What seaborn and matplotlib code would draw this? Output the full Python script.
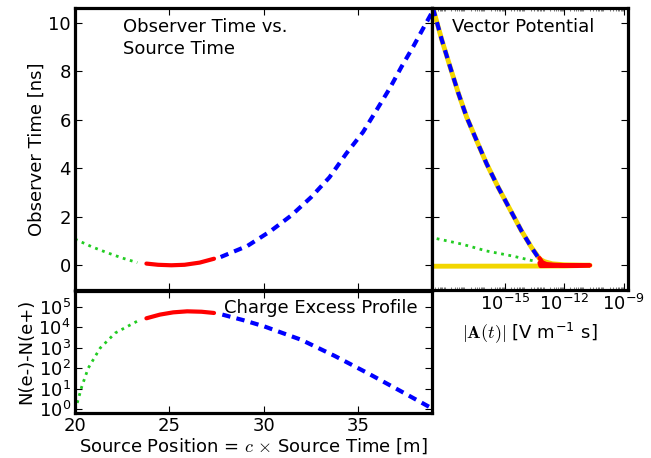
import numpy as np
import pandas as pd
import matplotlib
matplotlib.use("Agg")
import matplotlib.pyplot as plt
import matplotlib.ticker as mticker
import seaborn as sns

# ---------------- data ----------------
# Observer time vs source position
obs_green_x = [20.0, 20.9, 21.7, 22.5, 23.3]
obs_green_t = [1.08, 0.76, 0.52, 0.30, 0.11]
obs_red_x = [23.78, 24.4, 25.1, 25.8, 26.6, 27.36]
obs_red_t = [0.07, 0.02, 0.0, 0.02, 0.11, 0.27]
obs_blue_x = [27.71, 29.13, 30.37, 31.44, 32.5, 33.47, 34.36, 35.25, 35.96,
              36.66, 37.29, 37.91, 38.44, 38.88]
obs_blue_t = [0.34, 0.80, 1.42, 2.05, 2.81, 3.63, 4.61, 5.50, 6.40,
              7.30, 8.20, 9.03, 9.79, 10.41]

# Charge excess profile
ce_green_x = [20.0, 20.09, 20.36, 20.7, 21.33, 22.13, 23.28]
ce_green_n = [0.9, 1.6, 12.6, 100.0, 955.0, 5250.0, 19500.0]
ce_red_x = [23.78, 24.5, 25.2, 25.94, 26.7, 27.36]
ce_red_n = [27500.0, 41700.0, 53700.0, 60300.0, 57500.0, 50100.0]
ce_blue_x = [27.8, 28.9, 30.0, 31.97, 33.74, 35.51, 37.29, 38.9]
ce_blue_n = [41700.0, 22400.0, 11200.0, 2450.0, 400.0, 56.0, 7.1, 1.07]

# Vector potential vs observer time
vp_yellow_A = [1e-19, 1e-12, 2e-11, 1e-12, 2.5e-13, 1.0e-13, 5.9e-14, 2.24e-14,
               6.9e-15, 1.78e-15, 4.6e-16, 1.2e-16, 3.7e-17, 1.17e-17,
               4.5e-18, 1.7e-18, 6.5e-19, 2.6e-19, 1.6e-19]
vp_yellow_t = [-0.04, -0.03, 0.0, 0.02, 0.06, 0.15, 0.25, 0.73,
               1.42, 2.32, 3.22, 4.19, 5.16, 6.12,
               7.10, 8.20, 9.31, 10.48, 11.0]
vp_blue_A = [4.5e-14, 2.24e-14, 6.9e-15, 1.78e-15, 4.6e-16, 1.2e-16, 3.7e-17,
             1.17e-17, 4.5e-18, 1.7e-18, 6.5e-19, 2.6e-19, 1.6e-19]
vp_blue_t = [0.36, 0.73, 1.42, 2.32, 3.22, 4.19, 5.16,
             6.12, 7.10, 8.20, 9.31, 10.48, 11.0]
vp_green_A = [3.6e-19, 6.3e-18, 1.2e-16, 2.5e-15, 4.0e-14]
vp_green_t = [1.10, 0.88, 0.59, 0.38, 0.15]
vp_red_A = [5.6e-14, 7.9e-14, 1.26e-13, 3.2e-13, 1.6e-12, 2.0e-11, 1.6e-12, 6.3e-14, 5.6e-14]
vp_red_t = [0.30, 0.12, 0.05, 0.02, 0.0, 0.0, -0.02, -0.03, 0.10]

GREEN = "#22cc22"
RED = "#ff0000"
BLUE = "#0000ff"
YELLOW = "#f2d600"

# ---------------- style ----------------
sns.set_style("ticks")
FS = 13
plt.rcParams.update({
    "font.family": ["DejaVu Sans"],
    "font.size": FS,
    "mathtext.fontset": "cm",
    "text.color": "black",
    "axes.labelcolor": "black",
    "xtick.direction": "in",
    "ytick.direction": "in",
    "xtick.top": True,
    "ytick.right": True,
    "xtick.major.size": 5,
    "ytick.major.size": 5,
    "xtick.minor.size": 2,
    "ytick.minor.size": 2,
    "xtick.major.pad": 3,
    "ytick.major.pad": 3,
    "xtick.labelsize": FS,
    "ytick.labelsize": FS,
    "axes.linewidth": 2.3,
    "axes.edgecolor": "black",
    "xtick.color": "black",
    "ytick.color": "black",
    "xtick.labelcolor": "black",
    "ytick.labelcolor": "black",
})

W, H = 651, 458
fig = plt.figure(figsize=(W / 100, H / 100), dpi=100)

L, M, R = 75 / W, 432 / W, 628 / W
ax_obs = fig.add_axes([L, (H - 289.5) / H, M - L, (289.5 - 8) / H])
ax_vp = fig.add_axes([M, (H - 289.5) / H, R - M, (289.5 - 8) / H], sharey=ax_obs)
ax_ce = fig.add_axes([L, (H - 412.7) / H, M - L, (412.7 - 290.5) / H], sharex=ax_obs)

dash_blue = (0, (2.0, 1.5))


def seg(ax, x, y, color, lw, ls):
    df = pd.DataFrame({"x": x, "y": y})
    sns.lineplot(data=df, x="x", y="y", ax=ax, sort=False, estimator=None,
                 color=color, linewidth=lw, linestyle=ls)


# Observer time panel
seg(ax_obs, obs_green_x, obs_green_t, GREEN, 2.0, ":")
seg(ax_obs, obs_red_x, obs_red_t, RED, 3.0, "-")
seg(ax_obs, obs_blue_x, obs_blue_t, BLUE, 3.0, dash_blue)
ax_obs.set_xlim(20, 38.9)
ax_obs.set_ylim(-1.0, 10.62)
ax_obs.set_yticks([0, 2, 4, 6, 8, 10])
ax_obs.set_xticks([20, 25, 30, 35])
ax_obs.tick_params(labelbottom=False)
ax_obs.set_xlabel("")
ax_obs.set_ylabel("Observer Time [ns]", fontsize=FS, labelpad=1.5)
ax_obs.text(0.135, 0.965, "Observer Time vs.\nSource Time", transform=ax_obs.transAxes,
            ha="left", va="top", fontsize=FS, linespacing=1.3)

# Vector potential panel
seg(ax_vp, vp_yellow_A, vp_yellow_t, YELLOW, 3.5, "-")
seg(ax_vp, vp_green_A, vp_green_t, GREEN, 2.0, ":")
seg(ax_vp, vp_blue_A, vp_blue_t, BLUE, 3.0, dash_blue)
seg(ax_vp, vp_red_A, vp_red_t, RED, 3.0, "-")
ax_vp.set_xscale("log")
ax_vp.set_xlim(10 ** -18.68, 10 ** -8.78)
ax_vp.xaxis.set_major_locator(mticker.FixedLocator([1e-15, 1e-12, 1e-9]))
ax_vp.xaxis.set_minor_locator(mticker.LogLocator(base=10, subs=np.arange(2, 10), numticks=50))
ax_vp.xaxis.set_minor_formatter(mticker.NullFormatter())
ax_vp.tick_params(axis="x", which="minor", color="0.4", width=0.6)
ax_vp.tick_params(axis="y", labelleft=False)
ax_vp.set_ylabel("")
ax_vp.set_xlabel(r"$|\mathbf{A}(t)|$ [V m$^{\mathdefault{-1}}$ s]", fontsize=FS, labelpad=5)
ax_vp.text(0.10, 0.965, "Vector Potential", transform=ax_vp.transAxes,
           ha="left", va="top", fontsize=FS)

# Charge excess panel
seg(ax_ce, ce_green_x, ce_green_n, GREEN, 2.0, ":")
seg(ax_ce, ce_red_x, ce_red_n, RED, 3.0, "-")
seg(ax_ce, ce_blue_x, ce_blue_n, BLUE, 3.0, dash_blue)
ax_ce.set_yscale("log")
ax_ce.set_ylim(0.66, 6.3e5)
ax_ce.yaxis.set_major_locator(mticker.FixedLocator([1, 10, 100, 1e3, 1e4, 1e5]))
ax_ce.yaxis.set_minor_locator(mticker.NullLocator())
ax_ce.set_xlim(20, 38.9)
ax_ce.set_xticks([20, 25, 30, 35])
ax_ce.set_ylabel("N(e-)-N(e+)", fontsize=FS, labelpad=2)
ax_ce.set_xlabel(r"Source Position = $c$ $\times$ Source Time [m]", fontsize=FS, labelpad=1)
ax_ce.text(0.96, 0.93, "Charge Excess Profile", transform=ax_ce.transAxes,
           ha="right", va="top", fontsize=FS)

for ax in (ax_obs, ax_vp, ax_ce):
    for s in ax.spines.values():
        s.set_linewidth(2.3)
        s.set_zorder(5)

fig.savefig("out.png", dpi=100)
